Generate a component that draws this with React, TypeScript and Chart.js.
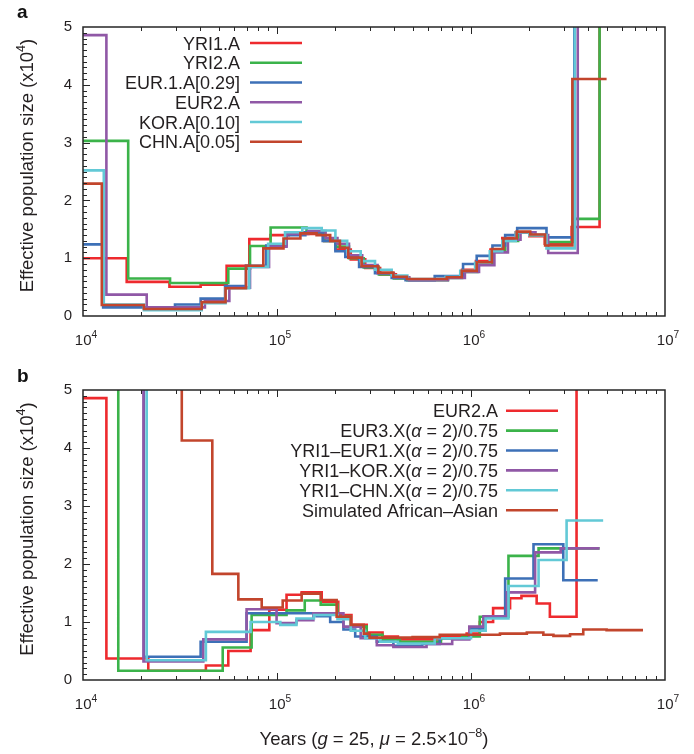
import React, { useEffect, useRef } from "react";
import { Chart, registerables } from "chart.js";
Chart.register(...registerables);

const FONT = '"Liberation Sans", Arial, Helvetica, sans-serif';
const TEXT = "#231f20";

// axis ticks
const X_TICKS = [1e4, 1e5, 1e6, 1e7];
const X_TICK_EXP = ["4", "5", "6", "7"];
const Y_MIN = 0;
const Y_MAX = 5;
const Y_STEP = 1;

// ---------- Panel a (times in years, N_e in units of 10^4) ----------
const A_LABELS = ["YRI1.A", "YRI2.A", "EUR.1.A[0.29]", "EUR2.A", "KOR.A[0.10]", "CHN.A[0.05]"];
const A_COLORS = ["#ee2a2e", "#3bb34a", "#3d70b7", "#9058a6", "#62c9d6", "#c2452c"];

const YRI1A_T = [1e4, 16800, 27900, 40400, 55000, 72000, 92600, 115000, 140000, 175000, 200000, 240000, 285000, 340000, 410000, 480000, 760000, 900000, 1060000, 1260000, 1450000, 1700000, 2000000, 2400000, 3300000, 4600000, 6000000];
const YRI1A_N = [1.0, 0.59, 0.505, 0.54, 0.87, 1.33, 1.4, 1.45, 1.42, 1.3, 1.15, 0.98, 0.83, 0.72, 0.66, 0.63, 0.68, 0.8, 0.95, 1.15, 1.35, 1.45, 1.38, 1.25, 1.54, 8];

const YRI2A_T = [1e4, 17100, 28100, 56100, 72600, 92700, 142000, 175000, 200000, 235000, 280000, 335000, 400000, 470000, 760000, 900000, 1080000, 1300000, 1500000, 1750000, 2050000, 2450000, 3350000, 4600000, 6000000];
const YRI2A_N = [3.03, 0.65, 0.57, 0.82, 1.21, 1.53, 1.45, 1.3, 1.2, 1.0, 0.84, 0.72, 0.65, 0.62, 0.66, 0.76, 0.9, 1.12, 1.3, 1.45, 1.4, 1.28, 1.68, 8];

const EUR1A_T = [1e4, 12700, 29800, 40400, 54000, 69200, 88000, 112000, 140000, 172000, 200000, 225000, 265000, 320000, 390000, 460000, 650000, 910000, 1070000, 1290000, 1500000, 1730000, 2450000, 3410000, 5000000];
const EUR1A_N = [1.24, 0.15, 0.2, 0.3, 0.52, 0.87, 1.22, 1.4, 1.45, 1.3, 1.12, 1.02, 0.85, 0.74, 0.66, 0.62, 0.69, 0.9, 1.04, 1.22, 1.4, 1.52, 1.36, 8];

const EUR2A_T = [1e4, 13200, 21300, 42500, 56800, 72600, 91000, 112000, 145000, 178000, 205000, 235000, 275000, 330000, 400000, 480000, 760000, 930000, 1100000, 1320000, 1550000, 1800000, 2150000, 2500000, 3550000, 5000000];
const EUR2A_N = [4.86, 0.37, 0.15, 0.26, 0.49, 0.85, 1.2, 1.42, 1.47, 1.35, 1.25, 1.05, 0.88, 0.74, 0.67, 0.62, 0.66, 0.76, 0.88, 1.1, 1.32, 1.45, 1.4, 1.09, 8];

const KORA_T = [1e4, 12800, 20600, 40900, 54300, 72000, 90000, 110000, 135000, 170000, 200000, 230000, 270000, 320000, 390000, 470000, 740000, 880000, 1050000, 1250000, 1450000, 1700000, 2000000, 2450000, 3430000, 5000000];
const KORA_N = [2.52, 0.2, 0.1, 0.22, 0.48, 0.85, 1.25, 1.45, 1.52, 1.48, 1.3, 1.12, 0.95, 0.8, 0.7, 0.64, 0.68, 0.78, 0.92, 1.12, 1.3, 1.45, 1.4, 1.17, 8];

const CHNA_T = [1e4, 12500, 20600, 40900, 54300, 69200, 85000, 108000, 132000, 160000, 188000, 211000, 233000, 273000, 333000, 398000, 467000, 750000, 896000, 1070000, 1280000, 1470000, 1720000, 2020000, 2410000, 3330000, 5000000];
const CHNA_N = [2.29, 0.19, 0.12, 0.24, 0.48, 0.87, 1.17, 1.34, 1.43, 1.4, 1.3, 1.18, 1.01, 0.86, 0.75, 0.68, 0.64, 0.67, 0.78, 0.93, 1.16, 1.34, 1.46, 1.41, 1.22, 4.1];

// ---------- Panel b ----------
const B_LABELS = ["EUR2.A", "EUR3.X(α = 2)/0.75", "YRI1–EUR1.X(α = 2)/0.75", "YRI1–KOR.X(α = 2)/0.75", "YRI1–CHN.X(α = 2)/0.75", "Simulated African–Asian"];
const B_COLORS = ["#ee2a2e", "#3bb34a", "#3d70b7", "#9058a6", "#62c9d6", "#c2452c"];

const B_EUR2A_T = [1e4, 13200, 21700, 43000, 56100, 73100, 91300, 112000, 134000, 170000, 207000, 242000, 290000, 350000, 420000, 700000, 950000, 1110000, 1300000, 1590000, 1820000, 2180000, 2550000, 3500000, 5000000];
const B_EUR2A_N = [4.86, 0.37, 0.16, 0.25, 0.5, 0.86, 1.21, 1.47, 1.51, 1.35, 1.12, 0.95, 0.82, 0.75, 0.7, 0.74, 0.8, 1.0, 1.24, 1.41, 1.45, 1.32, 1.09, 8];

const EUR3X_T = [1e4, 15200, 52500, 74000, 112000, 139000, 168000, 205000, 240000, 290000, 350000, 430000, 700000, 900000, 1110000, 1560000, 2230000, 4600000];
const EUR3X_N = [8, 0.16, 0.56, 1.12, 1.2, 1.37, 1.3, 1.09, 0.92, 0.78, 0.7, 0.66, 0.72, 0.75, 1.09, 2.14, 2.27];

const YRI1EUR1X_T = [1e4, 20600, 40400, 69700, 160000, 188000, 220000, 253000, 327000, 398000, 560000, 690000, 980000, 1160000, 1500000, 2100000, 2990000, 4500000];
const YRI1EUR1X_N = [8, 0.4, 0.66, 1.15, 1.1, 1.0, 0.87, 0.75, 0.66, 0.59, 0.62, 0.72, 0.89, 1.09, 1.75, 2.34, 1.72];

const YRI1KORX_T = [1e4, 20500, 41700, 69700, 99500, 126000, 154000, 220000, 270000, 327000, 398000, 590000, 800000, 980000, 1160000, 1530000, 2140000, 2900000, 4600000];
const YRI1KORX_N = [8, 0.32, 0.7, 1.22, 0.98, 1.03, 1.15, 0.92, 0.72, 0.6, 0.57, 0.62, 0.7, 0.92, 1.1, 1.51, 2.2, 2.27];

const YRI1CHNX_T = [1e4, 21300, 43000, 73100, 104000, 126000, 155000, 205000, 240000, 285000, 340000, 420000, 650000, 1000000, 1190000, 1560000, 2230000, 3110000, 4800000];
const YRI1CHNX_N = [8, 0.34, 0.83, 1.0, 0.95, 1.06, 1.12, 1.05, 0.85, 0.72, 0.66, 0.63, 0.72, 0.85, 1.06, 1.62, 2.07, 2.75];

const SIM_T = [1e4, 32300, 46400, 63200, 83400, 107000, 134000, 168000, 203000, 240000, 280000, 300000, 500000, 690000, 1410000, 1940000, 2360000, 2660000, 3240000, 3790000, 5000000, 7700000];
const SIM_N = [8, 4.13, 1.83, 1.39, 1.25, 1.37, 1.49, 1.38, 1.09, 0.95, 0.8, 0.73, 0.74, 0.78, 0.8, 0.82, 0.78, 0.76, 0.79, 0.87, 0.86];

const Y_TITLE = [{ t: "Effective population size (x10" }, { t: "4", sup: true }, { t: ")" }];
const X_TITLE = [
  { t: "Years (" }, { t: "g", it: true }, { t: " = 25, " }, { t: "μ", it: true },
  { t: " = 2.5×10" }, { t: "−8", sup: true }, { t: ")" },
];

type Seg = { t: string; it?: boolean; sup?: boolean };

// Each interval [T[i], T[i+1]) holds N[i]; last point repeats the final value.
function steps(T: number[], N: number[]) {
  const pts = [{ x: T[0], y: N[0] }];
  for (let i = 1; i < T.length; i++) pts.push({ x: T[i], y: N[i - 1] });
  return pts;
}

function segFont(s: Seg, size: number) {
  const sz = s.sup ? size * 0.68 : size;
  return `${s.it ? "italic " : ""}${sz}px ${FONT}`;
}

function drawRich(ctx: CanvasRenderingContext2D, segs: Seg[], x: number, y: number, align: string, size: number) {
  let w = 0;
  const widths = segs.map((s) => {
    ctx.font = segFont(s, size);
    const m = ctx.measureText(s.t).width;
    w += m;
    return m;
  });
  let cx = align === "center" ? x - w / 2 : align === "right" ? x - w : x;
  ctx.textAlign = "left";
  ctx.textBaseline = "alphabetic";
  segs.forEach((s, i) => {
    ctx.font = segFont(s, size);
    ctx.fillText(s.t, cx, s.sup ? y - size * 0.42 : y);
    cx += widths[i];
  });
}

function labelSegs(label: string): Seg[] {
  const parts = label.split("α");
  const out: Seg[] = [];
  parts.forEach((p, i) => {
    if (i > 0) out.push({ t: "α", it: true });
    if (p) out.push({ t: p });
  });
  return out;
}

type Decor = {
  letter: string;
  letterY: number;
  legendRight: number;
  legendLine: [number, number];
  legendY0: number;
  legendDy: number;
  xTitleY?: number;
};

function makeDecor(d: Decor) {
  return {
    id: "decor",
    afterDraw(chart: any) {
      const ctx: CanvasRenderingContext2D = chart.ctx;
      const ca = chart.chartArea;
      const xs = chart.scales.x;
      const ys = chart.scales.y;
      ctx.save();
      ctx.strokeStyle = "#262626";
      ctx.lineWidth = 1.5;
      ctx.strokeRect(ca.left, ca.top, ca.right - ca.left, ca.bottom - ca.top);
      ctx.lineWidth = 1;
      ctx.beginPath();
      for (let e = 4; e <= 6; e++) {
        for (let m = 1; m <= 9; m++) {
          if (m === 1 && e === 4) continue;
          const px = Math.round(xs.getPixelForValue(m * Math.pow(10, e))) + 0.5;
          const len = m === 1 ? 7 : 4;
          ctx.moveTo(px, ca.bottom);
          ctx.lineTo(px, ca.bottom - len);
          ctx.moveTo(px, ca.top);
          ctx.lineTo(px, ca.top + len);
        }
      }
      for (let k = 1; k < 50; k++) {
        const py = Math.round(ys.getPixelForValue(k / 10)) + 0.5;
        const len = k % 10 === 0 ? 7 : 4;
        ctx.moveTo(ca.left, py);
        ctx.lineTo(ca.left + len, py);
      }
      ctx.stroke();

      ctx.fillStyle = TEXT;
      X_TICKS.forEach((v, i) => {
        const px = xs.getPixelForValue(v);
        drawRich(ctx, [{ t: "10" }, { t: X_TICK_EXP[i], sup: true }], px + 3, ca.bottom + 28.5, "center", 15);
      });

      // y title
      ctx.save();
      ctx.translate(33, (ca.top + ca.bottom) / 2 - 6);
      ctx.rotate(-Math.PI / 2);
      drawRich(ctx, Y_TITLE as Seg[], 0, 0, "center", 18.5);
      ctx.restore();

      // x title
      if (d.xTitleY !== undefined) {
        drawRich(ctx, X_TITLE as Seg[], (ca.left + ca.right) / 2, d.xTitleY, "center", 18.5);
      }

      // legend
      chart.data.datasets.forEach((ds: any, i: number) => {
        const cy = d.legendY0 + i * d.legendDy;
        ctx.fillStyle = TEXT;
        drawRich(ctx, labelSegs(ds.label), d.legendRight, cy + 6.5, "right", 18);
        ctx.strokeStyle = ds.borderColor;
        ctx.lineWidth = 2.6;
        ctx.beginPath();
        ctx.moveTo(d.legendLine[0], cy);
        ctx.lineTo(d.legendLine[1], cy);
        ctx.stroke();
      });

      // panel letter
      ctx.fillStyle = "#111";
      ctx.font = `bold 19px ${FONT}`;
      ctx.textAlign = "left";
      ctx.textBaseline = "alphabetic";
      ctx.fillText(d.letter, 17, d.letterY);
      ctx.restore();
    },
  };
}

function Panel(props: {
  width: number;
  height: number;
  top: number;
  padTop: number;
  xHeight: number;
  labels: string[];
  colors: string[];
  series: [number[], number[]][];
  decor: Decor;
}) {
  const ref = useRef<HTMLCanvasElement>(null);
  useEffect(() => {
    if (!ref.current) return;
    const datasets = props.series.map(([T, N], i) => ({
      label: props.labels[i],
      data: steps(T, N),
      borderColor: props.colors[i],
      backgroundColor: props.colors[i],
      borderWidth: 2.6,
      pointRadius: 0,
      stepped: "after" as const,
      fill: false,
      order: -i,
    }));
    const chart = new Chart(ref.current, {
      type: "line",
      data: { datasets },
      options: {
        animation: false,
        responsive: false,
        devicePixelRatio: 1,
        parsing: false as any,
        layout: { padding: { left: 0, right: 29, top: props.padTop, bottom: 0 } },
        plugins: { legend: { display: false }, tooltip: { enabled: false } },
        scales: {
          x: {
            type: "logarithmic",
            min: 1e4,
            max: 1e7,
            ticks: { display: false },
            grid: { display: false, drawTicks: false },
            border: { display: false },
            afterFit: (s: any) => {
              s.height = props.xHeight;
            },
          },
          y: {
            type: "linear",
            min: Y_MIN,
            max: Y_MAX,
            ticks: {
              stepSize: Y_STEP,
              padding: 11,
              color: TEXT,
              font: { size: 15, family: FONT },
            },
            grid: { display: false, drawTicks: false },
            border: { display: false },
            afterFit: (s: any) => {
              s.width = 83;
            },
          },
        },
      },
      plugins: [makeDecor(props.decor)],
    });
    return () => chart.destroy();
  }, []);
  return (
    <canvas
      ref={ref}
      width={props.width}
      height={props.height}
      style={{ position: "absolute", left: 0, top: props.top, width: props.width, height: props.height, display: "block" }}
    />
  );
}

export default function App() {
  return (
    <div style={{ position: "absolute", left: 0, top: 0, width: 694, height: 754, background: "#fff" }}>
      <Panel
        width={694}
        height={352}
        top={0}
        padTop={27}
        xHeight={36}
        labels={A_LABELS}
        colors={A_COLORS}
        series={[
          [YRI1A_T, YRI1A_N],
          [YRI2A_T, YRI2A_N],
          [EUR1A_T, EUR1A_N],
          [EUR2A_T, EUR2A_N],
          [KORA_T, KORA_N],
          [CHNA_T, CHNA_N],
        ]}
        decor={{ letter: "a", letterY: 18, legendRight: 240, legendLine: [250, 302], legendY0: 43, legendDy: 19.75 }}
      />
      <Panel
        width={694}
        height={402}
        top={352}
        padTop={38}
        xHeight={74}
        labels={B_LABELS}
        colors={B_COLORS}
        series={[
          [B_EUR2A_T, B_EUR2A_N],
          [EUR3X_T, EUR3X_N],
          [YRI1EUR1X_T, YRI1EUR1X_N],
          [YRI1KORX_T, YRI1KORX_N],
          [YRI1CHNX_T, YRI1CHNX_N],
          [SIM_T, SIM_N],
        ]}
        decor={{ letter: "b", letterY: 30, legendRight: 498, legendLine: [506, 558], legendY0: 58.7, legendDy: 19.9, xTitleY: 393 }}
      />
    </div>
  );
}
